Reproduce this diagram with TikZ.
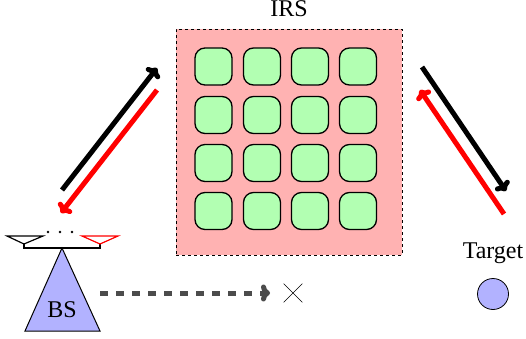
\documentclass[tikz,border=0pt]{standalone}
\usepackage{fontspec}
\setmainfont{Liberation Serif}
\usepackage{xcolor}
\usetikzlibrary{shapes.misc,arrows.meta,positioning,calc}

\begin{document}
\begin{tikzpicture}[
  x=1pt, y=-1pt,
  every node/.style={font=\fontsize{24}{24}\selectfont},
  element/.style={draw, line width=1.3pt, rounded corners=10pt, fill=green!30, minimum size=37pt, inner sep=0pt},
  link/.style={line width=5pt, -{Computer Modern Rightarrow[length=9pt,width=17pt,line cap=round]}},
  antenna/.style={line width=1.2pt, line join=miter},
  ]
  \useasboundingbox (0,0) rectangle (526,339);

  % IRS panel
  \node[draw, dashed, line width=0.8pt, fill=red!30, minimum size=226pt, inner sep=0pt] (irs) at (289,142) {};
  \node (irslabel) at (289,9) {IRS};
  \foreach \r/\y in {1/66.5,2/115,3/163,4/211}
    \foreach \c/\x in {1/213.5,2/262,3/310,4/358}
      \node[element] (e\r\c) at (\x,\y) {};

  % BS
  \draw[line width=1pt, fill=blue!30] (62,248) -- (25,331) -- (100,331) -- cycle;
  \node (bs) at (62,310) {BS};
  \draw[antenna] (24,244) -- (24,248) -- (100,248) -- (100,244);
  \draw[antenna] (24,244) -- (7,236) -- (43,236) -- cycle;
  \draw[antenna, red] (100,244) -- (82,236) -- (118,236) -- cycle;
  \foreach \x in {48,60,72}
    \fill (\x,232) circle (1.3pt);

  % target and blocked spot
  \node[draw, circle, line width=0.8pt, fill=blue!30, minimum size=31pt, inner sep=0pt] (target) at (493,294) {};
  \node (targetlabel) at (493,253) {Target};
  \node[draw, cross out, line width=0.6pt, minimum size=18pt, inner sep=0pt] (blocked) at (293,293) {};

  % links
  \coordinate (a1) at (62,190);
  \coordinate (a2) at (157,68);
  \coordinate (b1) at (157,90);
  \coordinate (b2) at (61,213);
  \coordinate (c1) at (422,67);
  \coordinate (c2) at (506,191);
  \coordinate (d1) at (504,214);
  \coordinate (d2) at (420,90);
  \coordinate (f1) at (100,293);
  \draw[link] (a1) -- (a2);
  \draw[link, red] (b1) -- (b2);
  \draw[link] (c1) -- (c2);
  \draw[link, red] (d1) -- (d2);
  \draw[link, black!70, dash pattern=on 8pt off 8pt] (f1) -- (270,293);
\end{tikzpicture}
\end{document}
